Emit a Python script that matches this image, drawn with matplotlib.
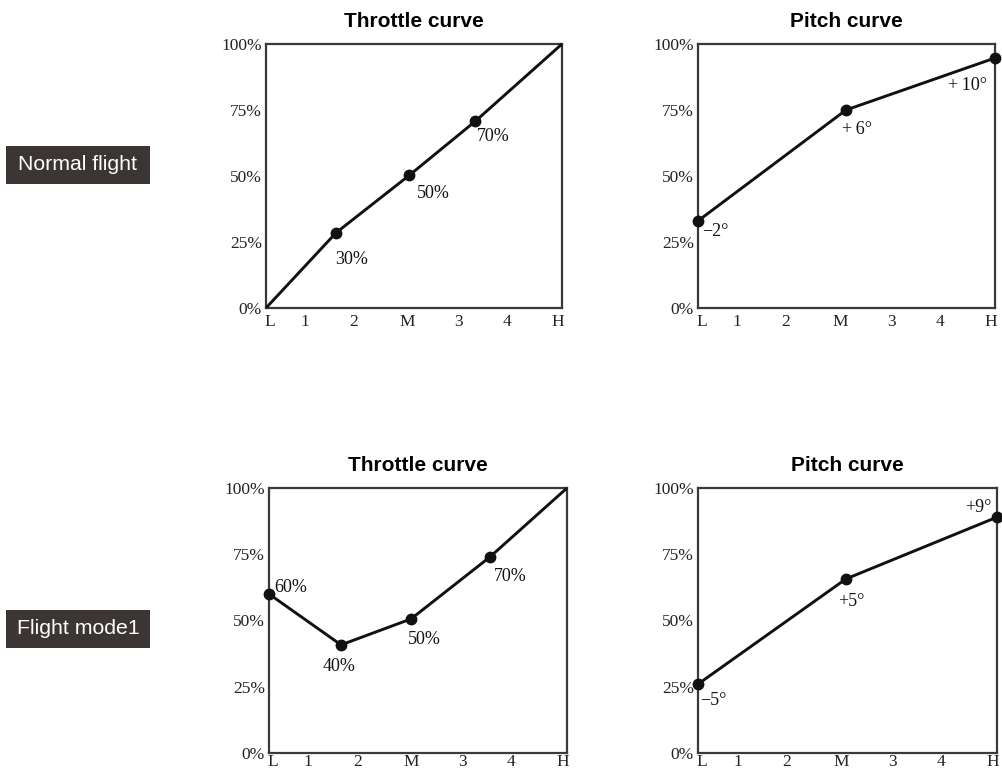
import matplotlib
matplotlib.use("Agg")
import matplotlib.pyplot as plt
from matplotlib.patches import Rectangle

# ---- data ----
tick_labels = ["L", "1", "2", "M", "3", "4", "H"]
tick_pos = [0.08, 0.79, 1.78, 2.87, 3.9, 4.88, 5.92]
y_ticks = [0, 25, 50, 75, 100]
y_labels = ["0%", "25%", "50%", "75%", "100%"]

rows = ["Normal flight", "Flight mode1"]

thr1_x = [0, 1.42, 2.9, 4.24, 6]
thr1_y = [0, 28.5, 50.2, 70.7, 100]
thr1_pts = [1, 2, 3]
thr1_lbl = ["30%", "50%", "70%"]
thr1_off = [(16, -27), (24, -18), (18, -15)]

pit1_x = [0, 2.99, 6]
pit1_y = [33, 75, 94.7]
pit1_pts = [0, 1, 2]
pit1_lbl = ["\u22122\u00b0", "+\u20096\u00b0", "+\u200910\u00b0"]
pit1_off = [(17, -11), (11, -20), (-27, -28)]

thr2_x = [0, 1.45, 2.86, 4.45, 6]
thr2_y = [60, 40.8, 50.6, 74, 100]
thr2_pts = [0, 1, 2, 3]
thr2_lbl = ["60%", "40%", "50%", "70%"]
thr2_off = [(22, 7), (-2, -22), (13, -21), (20, -20)]

pit2_x = [0, 2.97, 6]
pit2_y = [26, 65.7, 89]
pit2_pts = [0, 1, 2]
pit2_lbl = ["\u22125\u00b0", "+5\u00b0", "+9\u00b0"]
pit2_off = [(15, -16), (5, -23), (-19, 10)]

W, H = 1003, 772
fig = plt.figure(figsize=(W / 100, H / 100), dpi=100)

serif = ["Liberation Serif", "DejaVu Serif"]
sans = ["Liberation Sans", "DejaVu Sans"]

def px_axes(l, r, t, b):
    return fig.add_axes([l / W, 1 - b / H, (r - l) / W, (b - t) / H])

def draw(ax, xs, ys, pts, labels, offs, title, xpad):
    ax.plot(xs, ys, color="#111111", lw=2.1, solid_capstyle="butt", clip_on=False, zorder=3)
    ax.plot([xs[i] for i in pts], [ys[i] for i in pts], "o", color="#111111",
            ms=7.5, clip_on=False, zorder=4)
    for i, lab, (dx, dy) in zip(pts, labels, offs):
        ax.annotate(lab, (xs[i], ys[i]), xytext=(dx * 0.72, dy * 0.72),
                    textcoords="offset points", ha="center", va="center",
                    fontsize=13, family=serif, color="#111111")
    ax.set_xlim(0, 6)
    ax.set_ylim(0, 100)
    ax.set_xticks(tick_pos)
    ax.set_xticklabels(tick_labels, family=serif, fontsize=12.5)
    ax.set_yticks(y_ticks)
    ax.set_yticklabels(y_labels, family=serif, fontsize=12.5)
    ax.tick_params(length=0, colors="#222222")
    ax.tick_params(axis="x", pad=xpad)
    ax.tick_params(axis="y", pad=3)
    for s in ax.spines.values():
        s.set_linewidth(1.6)
        s.set_color("#3a3a3a")
    ax.set_title(title, family=sans, fontweight="bold", fontsize=15, pad=12)

ax1 = px_axes(266, 562, 44, 308)
draw(ax1, thr1_x, thr1_y, thr1_pts, thr1_lbl, thr1_off, "Throttle curve", 4)
ax2 = px_axes(698, 995, 44, 308)
draw(ax2, pit1_x, pit1_y, pit1_pts, pit1_lbl, pit1_off, "Pitch curve", 4)
ax3 = px_axes(269, 567, 488, 753)
draw(ax3, thr2_x, thr2_y, thr2_pts, thr2_lbl, thr2_off, "Throttle curve", 0.5)
ax4 = px_axes(698, 997, 488, 753)
draw(ax4, pit2_x, pit2_y, pit2_pts, pit2_lbl, pit2_off, "Pitch curve", 0.5)

# row label boxes
for name, (t, b) in zip(rows, [(146, 184), (610, 648)]):
    fig.patches.append(Rectangle((6 / W, 1 - b / H), 144 / W, (b - t) / H,
                                 transform=fig.transFigure, facecolor="#3b3634",
                                 edgecolor="none"))
    fig.text(78 / W, 1 - (t + b) / 2 / H, name, color="white", family=sans,
             fontsize=15.3, ha="center", va="center")

fig.savefig("out.png", dpi=100)
